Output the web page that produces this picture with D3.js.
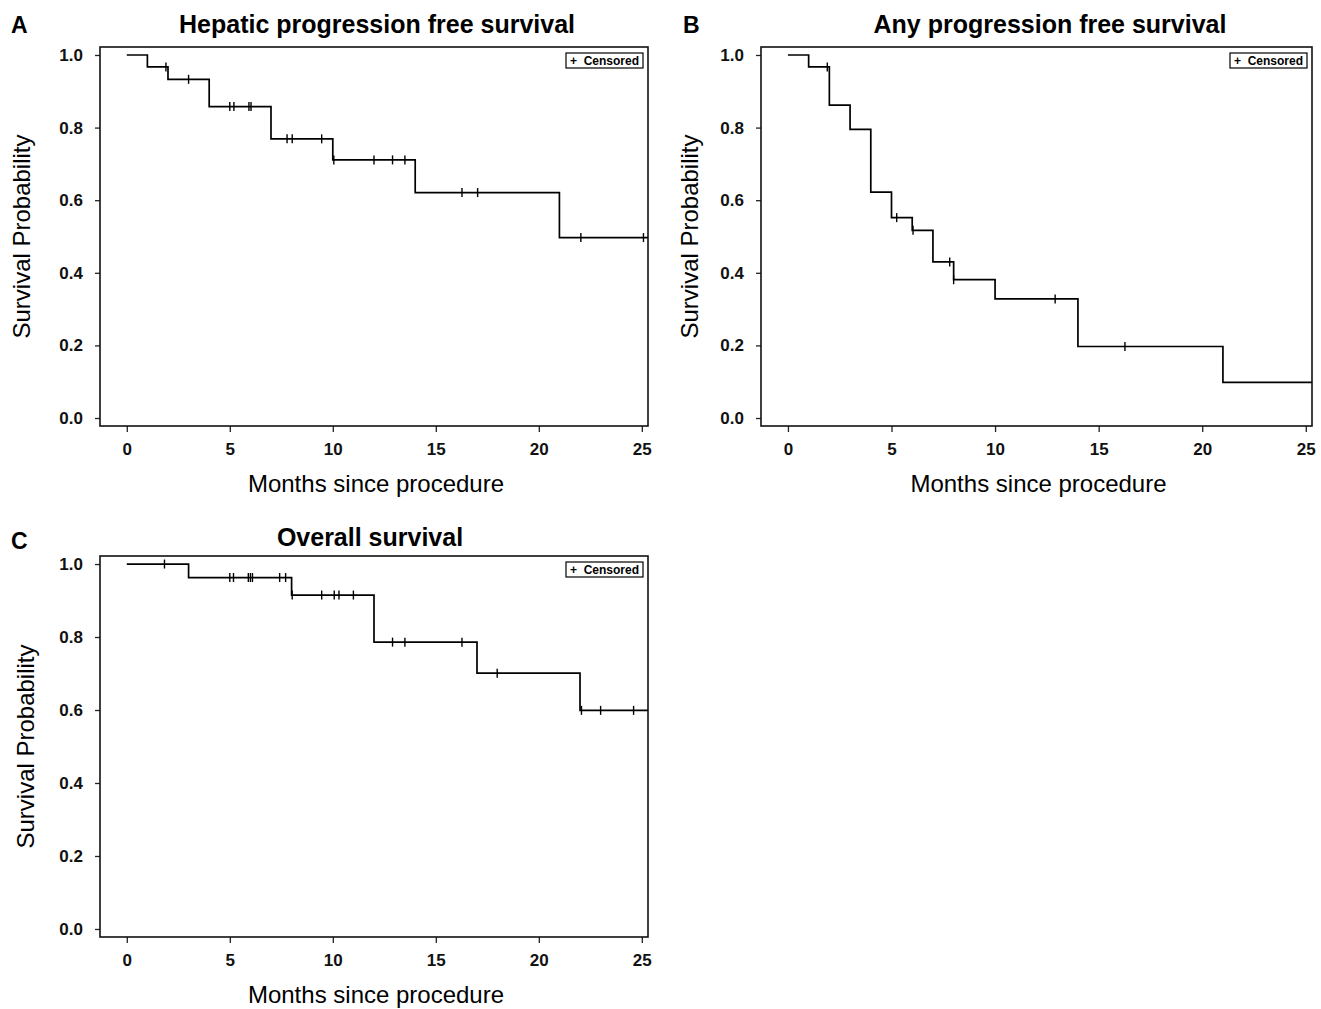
<!DOCTYPE html>
<html>
<head>
<meta charset="utf-8">
<script src="https://cdn.jsdelivr.net/npm/d3@7"></script>
<style>
  html, body { margin: 0; padding: 0; background: #fff; }
</style>
</head>
<body>
<div id="container"></div>
<script>
// svg size
const width = 1321;
const height = 1009;

// font
const fontFamily = "'Liberation Sans', Arial, Helvetica, sans-serif";

// ---- data (months, survival probability) ----

// A: hepatic progression free survival
const hepaticEventTimes = [0, 1, 2, 4, 7, 10, 14, 21];
const hepaticSurvival = [1.0, 0.967, 0.933, 0.858, 0.769, 0.711, 0.621, 0.497];
const hepaticCensored = [1.9, 3.0, 5.0, 5.2, 5.93, 6.03, 7.78, 8.03, 9.46, 10.05, 12.0, 12.9, 13.5, 16.27, 17.03, 22.04, 25.08];

// B: any progression free survival
const anyEventTimes = [0, 1, 2, 3, 4, 5, 6, 7, 8, 10, 14, 21];
const anySurvival = [1.0, 0.967, 0.862, 0.795, 0.622, 0.552, 0.517, 0.43, 0.381, 0.328, 0.197, 0.098];
const anyCensored = [1.9, 5.25, 6.04, 7.81, 8.0, 12.9, 16.27];

// C: overall survival
const overallEventTimes = [0, 3, 8, 12, 17, 22];
const overallSurvival = [1.0, 0.963, 0.915, 0.786, 0.701, 0.599];
const overallCensored = [1.83, 5.0, 5.18, 5.9, 6.0, 6.1, 7.42, 7.71, 8.03, 9.46, 10.07, 10.3, 11.0, 12.9, 13.5, 16.27, 17.98, 22.07, 23.0, 24.6];

// axes
const xTicks = [0, 5, 10, 15, 20, 25];
const yTicks = [0.0, 0.2, 0.4, 0.6, 0.8, 1.0];
const xDomain = [-1.3, 25.3];
const yDomain = [-0.022, 1.022];

const xTitle = "Months since procedure";
const yTitle = "Survival Probability";
const legendText = "+  Censored";

// panel layout
const panels = [
    {letter: "A", title: "Hepatic progression free survival",
     times: hepaticEventTimes, surv: hepaticSurvival, cens: hepaticCensored,
     left: 100, right: 648, top: 47, bottom: 426,
     titleX: 377, titleY: 33, letterX: 11, letterY: 33, yTitleX: 30},
    {letter: "B", title: "Any progression free survival",
     times: anyEventTimes, surv: anySurvival, cens: anyCensored,
     left: 761, right: 1312, top: 47, bottom: 426,
     titleX: 1050, titleY: 33, letterX: 683, letterY: 33, yTitleX: 698},
    {letter: "C", title: "Overall survival",
     times: overallEventTimes, surv: overallSurvival, cens: overallCensored,
     left: 100, right: 648, top: 556, bottom: 937,
     titleX: 370, titleY: 546, letterX: 11, letterY: 549, yTitleX: 34}
];

const tickFontSize = "17px";
const axisTitleFontSize = "24px";
const titleFontSize = "25px";
const letterFontSize = "23px";
const curveWidth = 1.7;
const censorHalf = 4.5;

// do not modify past this point

const svg = d3.select("#container").append("svg")
      .attr("width", width)
      .attr("height", height)
      .attr("viewBox", [0, 0, width, height])
      .style("font-family", fontFamily);

svg.append("rect")
    .attr("width", width)
    .attr("height", height)
    .attr("fill", "#fff");

function stepValue(p, t) {
    let s = p.surv[0];
    p.times.forEach((tt, i) => { if (tt <= t) s = p.surv[i]; });
    return s;
}

function drawPanel(p) {
    const g = svg.append("g");

    const x = d3.scaleLinear().domain(xDomain).range([p.left, p.right]);
    const y = d3.scaleLinear().domain(yDomain).range([p.bottom, p.top]);

    // y axis
    const ya = g.append("g")
	  .attr("transform", `translate(${p.left},0)`)
	  .call(d3.axisLeft(y).tickValues(yTicks).tickFormat(d3.format(".1f")).tickSize(5).tickPadding(12));
    ya.select(".domain").remove();
    ya.selectAll("line").attr("stroke", "#222").attr("stroke-width", 1.3);
    ya.selectAll("text")
	.attr("font-family", fontFamily)
	.attr("font-size", tickFontSize)
	.attr("font-weight", "bold")
	.attr("fill", "#111");

    // x axis
    const xa = g.append("g")
	  .attr("transform", `translate(0,${p.bottom})`)
	  .call(d3.axisBottom(x).tickValues(xTicks).tickFormat(d3.format("d")).tickSize(6).tickPadding(11));
    xa.select(".domain").remove();
    xa.selectAll("line").attr("stroke", "#222").attr("stroke-width", 1.3);
    xa.selectAll("text")
	.attr("font-family", fontFamily)
	.attr("font-size", tickFontSize)
	.attr("font-weight", "bold")
	.attr("fill", "#111");

    // box
    g.append("rect")
	.attr("x", p.left)
	.attr("y", p.top)
	.attr("width", p.right - p.left)
	.attr("height", p.bottom - p.top)
	.attr("fill", "none")
	.attr("stroke", "#111")
	.attr("stroke-width", 1.6);

    // survival curve
    const pts = p.times.map((t, i) => [t, p.surv[i]]);
    pts.push([xDomain[1], p.surv[p.surv.length - 1]]);

    const line = d3.line()
	  .x(d => x(d[0]))
	  .y(d => y(d[1]))
	  .curve(d3.curveStepAfter);

    g.append("path")
	.datum(pts)
	.attr("d", line)
	.attr("fill", "none")
	.attr("stroke", "#000")
	.attr("stroke-width", curveWidth);

    // censor marks
    g.selectAll("line.censor")
	.data(p.cens)
	.join("line")
	.attr("class", "censor")
	.attr("x1", d => x(d))
	.attr("x2", d => x(d))
	.attr("y1", d => y(stepValue(p, d)) - censorHalf)
	.attr("y2", d => y(stepValue(p, d)) + censorHalf)
	.attr("stroke", "#000")
	.attr("stroke-width", 1.4);

    // legend
    const lg = g.append("g")
	  .attr("transform", `translate(${p.right - 82},${p.top + 6})`);
    lg.append("rect")
	.attr("width", 77)
	.attr("height", 15)
	.attr("fill", "#fff")
	.attr("stroke", "#000")
	.attr("stroke-width", 1.2);
    lg.append("text")
	.attr("x", 38.5)
	.attr("y", 12)
	.attr("text-anchor", "middle")
	.attr("font-size", "12px")
	.attr("font-weight", "bold")
	.attr("fill", "#000")
	.attr("xml:space", "preserve")
	.text(legendText);

    // axis titles
    g.append("text")
	.attr("x", (p.left + p.right) / 2 + 2)
	.attr("y", p.bottom + 66)
	.attr("text-anchor", "middle")
	.attr("font-size", axisTitleFontSize)
	.attr("fill", "#000")
	.text(xTitle);

    g.append("text")
	.attr("transform", `translate(${p.yTitleX},${(p.top + p.bottom) / 2}) rotate(-90)`)
	.attr("text-anchor", "middle")
	.attr("font-size", axisTitleFontSize)
	.attr("fill", "#000")
	.text(yTitle);

    // title and panel letter
    g.append("text")
	.attr("x", p.titleX)
	.attr("y", p.titleY)
	.attr("text-anchor", "middle")
	.attr("font-size", titleFontSize)
	.attr("font-weight", "bold")
	.attr("fill", "#000")
	.text(p.title);

    g.append("text")
	.attr("x", p.letterX)
	.attr("y", p.letterY)
	.attr("font-size", letterFontSize)
	.attr("font-weight", "bold")
	.attr("fill", "#000")
	.text(p.letter);
}

panels.forEach(drawPanel);
</script>
</body>
</html>
